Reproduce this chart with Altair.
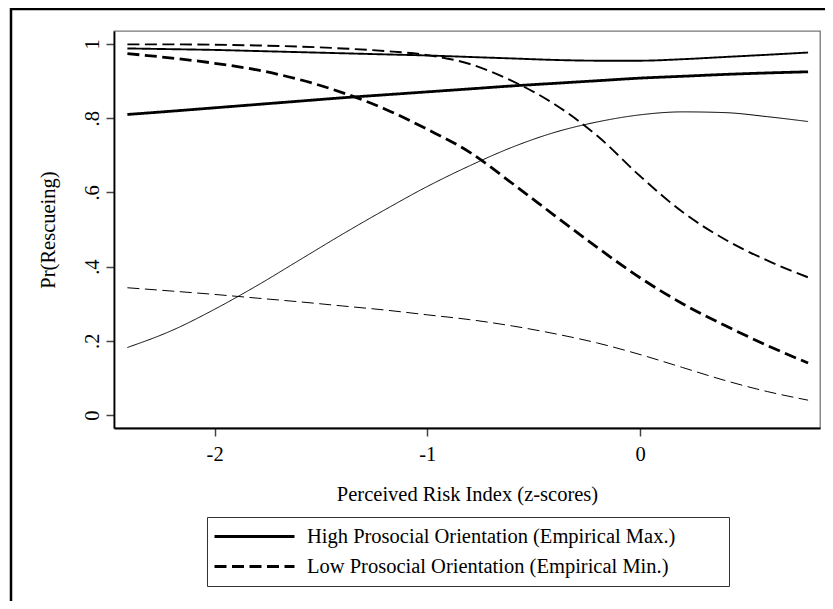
import altair as alt
import pandas as pd

# Perceived risk index (z-scores) at which the curves were read
X = [-2.41, -2.2, -2.0, -1.8, -1.6, -1.4, -1.2, -1.0, -0.8, -0.6,
     -0.4, -0.2, 0.0, 0.2, 0.4, 0.6, 0.79]

# High prosocial orientation: estimate and 95% band
HIGH_EST = [0.810, 0.819, 0.828, 0.837, 0.846, 0.855, 0.863, 0.871, 0.879,
            0.887, 0.894, 0.901, 0.908, 0.913, 0.918, 0.922, 0.925]
HIGH_HI = [0.988, 0.986, 0.984, 0.981, 0.978, 0.975, 0.972, 0.969, 0.965,
           0.961, 0.957, 0.955, 0.955, 0.959, 0.965, 0.971, 0.977]
HIGH_LO = [0.182, 0.228, 0.285, 0.349, 0.418, 0.487, 0.553, 0.616, 0.672,
           0.722, 0.762, 0.790, 0.809, 0.817, 0.815, 0.804, 0.791]

# Low prosocial orientation: estimate and 95% band
LOW_EST = [0.974, 0.962, 0.948, 0.930, 0.904, 0.869, 0.825, 0.770, 0.708,
           0.624, 0.537, 0.451, 0.370, 0.300, 0.241, 0.187, 0.140]
LOW_HI = [0.999, 0.999, 0.998, 0.996, 0.993, 0.988, 0.981, 0.970, 0.946,
          0.900, 0.837, 0.752, 0.644, 0.547, 0.473, 0.416, 0.371]
LOW_LO = [0.343, 0.334, 0.325, 0.315, 0.305, 0.294, 0.283, 0.270, 0.257,
          0.240, 0.219, 0.194, 0.163, 0.128, 0.093, 0.063, 0.040]

GROUPS = ["High Prosocial Orientation (Empirical Max.)",
          "Low Prosocial Orientation (Empirical Min.)"]
BANDS = ["estimate", "upper", "lower"]

Y_TICKS = [0, 0.2, 0.4, 0.6, 0.8, 1]
X_TICKS = [-2, -1, 0]

series = [
    (GROUPS[0], "estimate", HIGH_EST),
    (GROUPS[0], "upper", HIGH_HI),
    (GROUPS[0], "lower", HIGH_LO),
    (GROUPS[1], "estimate", LOW_EST),
    (GROUPS[1], "upper", LOW_HI),
    (GROUPS[1], "lower", LOW_LO),
]
rows = []
for g, b, ys in series:
    for xv, yv in zip(X, ys):
        rows.append({"x": xv, "y": yv, "group": g, "band": b})
df = pd.DataFrame(rows)

FONT = "Liberation Serif"
FS = 20.5

lines = alt.Chart(df).mark_line(color="black", interpolate="monotone").encode(
    x=alt.X("x:Q",
            scale=alt.Scale(domain=[-2.473, 0.846], nice=False, zero=False),
            axis=alt.Axis(values=X_TICKS,
                          labelExpr="datum.value < 0 ? '-' + format(-datum.value, 'd') : format(datum.value, 'd')",
                          title="Perceived Risk Index (z-scores)",
                          titleY=72, titleBaseline="alphabetic",
                          labelBaseline="alphabetic", labelPadding=24,
                          labelFlush=False)),
    y=alt.Y("y:Q",
            scale=alt.Scale(domain=[-0.035, 1.035], nice=False, zero=False),
            axis=alt.Axis(values=Y_TICKS,
                          labelExpr="replace(format(datum.value, '.1~f'), '0.', '.')",
                          labelAngle=270, labelAlign="center",
                          labelBaseline="alphabetic", labelPadding=8,
                          labelFlush=False, labelOverlap=False,
                          title="Pr(Rescueing)", titleAngle=270,
                          titleX=-60, titleY=198.5, titleAlign="center",
                          titleBaseline="alphabetic")),
    strokeDash=alt.StrokeDash(
        "group:N",
        scale=alt.Scale(domain=GROUPS, range=[[1, 0], [12, 5.5]]),
        legend=alt.Legend(orient="none", legendX=93, legendY=486,
                          direction="vertical", title=" ",
                          titleOrient="right", titlePadding=48,
                          symbolType="stroke", symbolSize=6400,
                          symbolStrokeWidth=2.8, symbolStrokeColor="black",
                          clipHeight=27, rowPadding=3, padding=6,
                          labelOffset=11, strokeColor="#333333",
                          fillColor="white")),
    strokeWidth=alt.StrokeWidth(
        "band:N",
        scale=alt.Scale(domain=BANDS, range=[2.8, 1.0, 1.0]),
        legend=None),
)

one = pd.DataFrame({"k": [0]})
border_top = alt.Chart(one).mark_rule(color="black", strokeWidth=2.5).encode(
    x=alt.value(-104), x2=alt.value(720), y=alt.value(-22))
border_left = alt.Chart(one).mark_rule(color="black", strokeWidth=2.5).encode(
    x=alt.value(-103), y=alt.value(-24), y2=alt.value(600))

chart = alt.layer(border_top, border_left, lines).properties(
    width=706, height=397,
    autosize=alt.AutoSizeParams(type="none"),
    padding={"left": 106, "top": 23, "right": 5, "bottom": 173},
    background="white",
).configure_view(
    stroke="#777777", strokeWidth=1.3
).configure_axis(
    labelFont=FONT, titleFont=FONT, labelFontSize=FS, titleFontSize=FS,
    labelColor="black", titleColor="black", titleFontWeight="normal",
    domainColor="black", domainWidth=1.8, tickColor="#444444",
    tickWidth=1.5, tickSize=8, grid=False
).configure_legend(
    labelFont=FONT, labelFontSize=FS, labelColor="black",
    titleFont=FONT, titleFontSize=FS, labelLimit=600
)

chart.save("out.html", embed_options={"renderer": "svg", "actions": False})
